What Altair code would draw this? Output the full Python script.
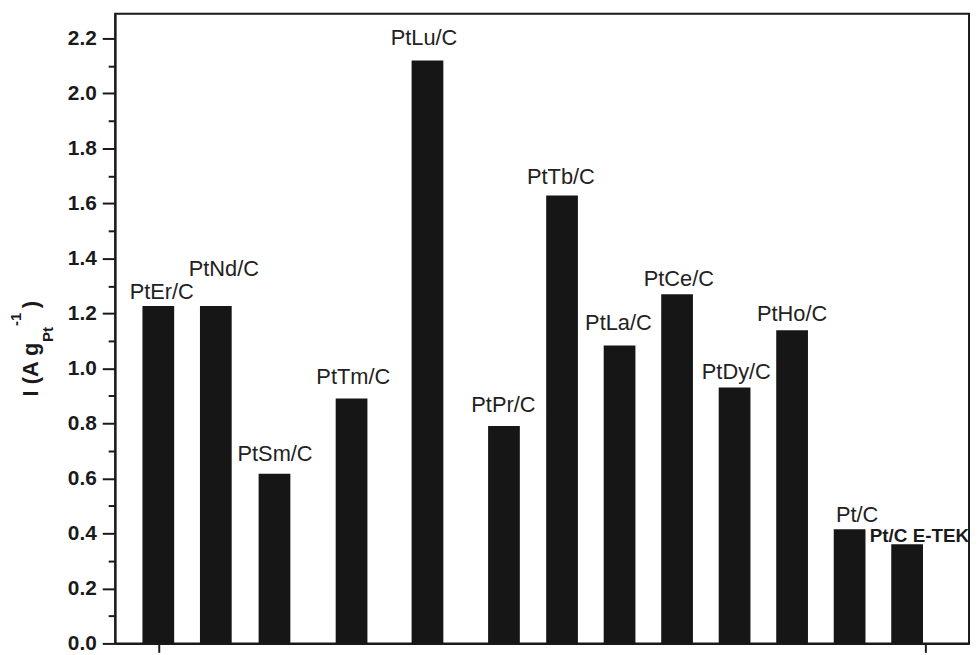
import altair as alt
import pandas as pd

# ---- data ----
names = ["PtEr/C", "PtNd/C", "PtSm/C", "PtTm/C", "PtLu/C", "PtPr/C", "PtTb/C",
         "PtLa/C", "PtCe/C", "PtDy/C", "PtHo/C", "Pt/C", "Pt/C E-TEK"]
x_pos = [1.0, 2.0, 3.02, 4.36, 5.68, 7.01, 8.02, 9.02, 10.02, 11.02, 12.02, 13.02, 14.02]
values = [1.227, 1.227, 0.617, 0.891, 2.12, 0.791, 1.629, 1.083, 1.270, 0.931, 1.139, 0.415, 0.361]

# label anchors (data units, text baseline)
label_names = names[:-1]
label_x = [1.06, 2.14, 3.03, 4.39, 5.62, 7.0, 8.0, 9.0, 10.05, 11.05, 12.02, 13.15]
label_y = [1.251, 1.336, 0.662, 0.943, 2.176, 0.843, 1.671, 1.138, 1.300, 0.961, 1.174, 0.443]
note_name = ["Pt/C E-TEK"]
note_x = [13.37]
note_y = [0.367]

y_major = [0.0, 0.2, 0.4, 0.6, 0.8, 1.0, 1.2, 1.4, 1.6, 1.8, 2.0, 2.2]
y_minor = [0.1, 0.3, 0.5, 0.7, 0.9, 1.1, 1.3, 1.5, 1.7, 1.9, 2.1]
x_ticks = [1.0, 14.34]
title_parts = ["I (A g", "Pt", "-1", ")"]

FONT = "Liberation Sans"
INK = "#1a1a1a"

bars_df = pd.DataFrame({"name": names, "x": x_pos, "value": values})
lab_df = pd.DataFrame({"name": label_names, "lx": label_x, "ly": label_y})
note_df = pd.DataFrame({"name": note_name, "lx": note_x, "ly": note_y})

xscale = alt.Scale(domain=[0.335, 15.01], nice=False, zero=False)
yscale = alt.Scale(domain=[0, 2.29], nice=False, zero=True)

xaxis = alt.Axis(values=x_ticks, labels=False, title=None, grid=False, tickSize=9,
                 tickWidth=2, domainWidth=2, domainColor=INK, tickColor=INK)
yaxis = alt.Axis(values=y_major, format=".1f", title=None, grid=False, tickSize=13,
                 tickWidth=2, domainWidth=2, domainColor=INK, tickColor=INK,
                 labelFont=FONT, labelFontWeight="bold", labelFontSize=21,
                 labelPadding=6, labelColor=INK, orient="left")
yaxis_minor = alt.Axis(values=y_minor, labels=False, title=None, grid=False, tickSize=7,
                       tickWidth=2, domain=False, tickColor=INK, orient="left")

bars = alt.Chart(bars_df).mark_bar(size=32, color="#161616").encode(
    x=alt.X("x:Q", scale=xscale, axis=xaxis),
    y=alt.Y("value:Q", scale=yscale, axis=yaxis),
)

minor = alt.Chart(bars_df).mark_point(opacity=0).encode(
    x=alt.X("x:Q", scale=xscale, axis=xaxis),
    y=alt.Y("value:Q", scale=yscale, axis=yaxis_minor),
)

labels = alt.Chart(lab_df).mark_text(
    font=FONT, fontSize=22, color="#222222", align="center", baseline="alphabetic"
).encode(
    x=alt.X("lx:Q", scale=xscale, axis=xaxis),
    y=alt.Y("ly:Q", scale=yscale, axis=None),
    text="name:N",
)

note = alt.Chart(note_df).mark_text(
    font=FONT, fontSize=19, fontWeight="bold", color=INK, align="left", baseline="alphabetic"
).encode(
    x=alt.X("lx:Q", scale=xscale, axis=xaxis),
    y=alt.Y("ly:Q", scale=yscale, axis=None),
    text="name:N",
)

def title_piece(txt, px, py, size):
    return alt.Chart(pd.DataFrame({"t": [txt]})).mark_text(
        angle=270, align="left", baseline="alphabetic", font=FONT,
        fontWeight="bold", fontSize=size, color=INK
    ).encode(x=alt.value(px), y=alt.value(py), text="t:N")

t_main = title_piece(title_parts[0], -78, 386, 22)
t_sub = title_piece(title_parts[1], -63, 331, 15)
t_sup = title_piece(title_parts[2], -95, 315, 15)
t_end = title_piece(title_parts[3], -78, 297, 22)

chart = alt.layer(bars, minor, labels, note, t_main, t_sub, t_sup, t_end).resolve_axis(
    y="independent"
).properties(
    width=861, height=635,
    autosize=alt.AutoSizeParams(type="none"),
    padding={"left": 108, "top": 3, "right": 2, "bottom": 9},
).configure_view(stroke=INK, strokeWidth=2)

chart.save("out.html", embed_options={"renderer": "svg", "actions": False})
